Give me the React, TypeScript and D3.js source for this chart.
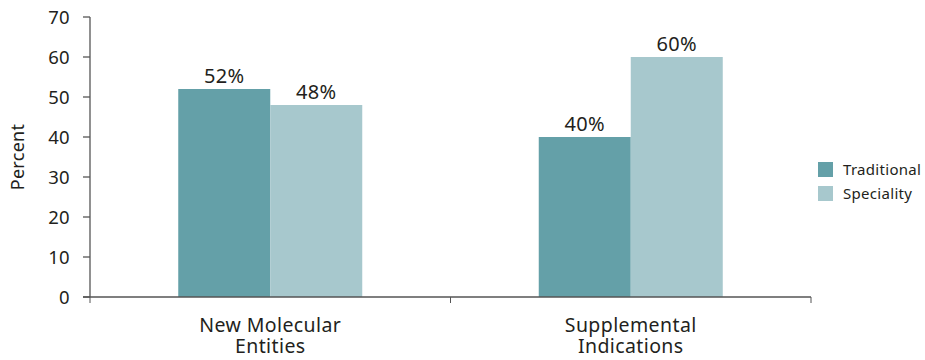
import React from "react";
import * as d3 from "d3";

const categories = ["New Molecular|Entities", "Supplemental|Indications"];
const seriesNames = ["Traditional", "Speciality"];
const traditional = [52, 40];
const speciality = [48, 60];
const yTicks = [0, 10, 20, 30, 40, 50, 60, 70];
const colors = ["#64a0a8", "#a7c8cd"];

export default function App() {
  const W = 925, H = 360;
  const left = 90, right = 811, top = 17, bottom = 297;
  const x = d3.scaleBand<number>().domain([0, 1]).range([left, right]);
  const inner = d3.scaleBand<number>().domain([0, 1]).range([0, 184]);
  const y = d3.scaleLinear().domain([0, 70]).range([bottom, top]);
  const series = [traditional, speciality];
  const font = "'Noto Sans', 'Open Sans', sans-serif";
  const txt = "#231f20";
  const axisColor = "#555";
  return (
    <svg width={W} height={H} style={{ position: "absolute", left: 0, top: 0 }} fontFamily={font}>
      {categories.map((c, i) => {
        const bx = x(i)! + (x.bandwidth() - 184) / 2;
        const cx = x(i)! + x.bandwidth() / 2;
        return (
          <g key={c}>
            {series.map((s, j) => (
              <g key={j}>
                <rect x={bx + inner(j)!} y={y(s[i])} width={inner.bandwidth()} height={bottom - y(s[i])} fill={colors[j]} />
                <text x={bx + inner(j)! + inner.bandwidth() / 2} y={y(s[i]) - 6} textAnchor="middle" fontSize={20} letterSpacing={0.4} fill={txt}>{s[i]}%</text>
              </g>
            ))}
            <text x={cx} y={332} textAnchor="middle" fontSize={19.5} letterSpacing={0.4} fill={txt}>
              {c.split("|").map((line, k) => (
                <tspan key={k} x={cx} dy={k === 0 ? 0 : 21}>{line}</tspan>
              ))}
            </text>
          </g>
        );
      })}
      <line x1={left} x2={left} y1={top} y2={bottom} stroke={axisColor} strokeWidth={1.3} />
      <line x1={left - 7} x2={right} y1={bottom} y2={bottom} stroke={axisColor} strokeWidth={1.3} />
      {[0, 1, 2].map((k) => (
        <line key={k} x1={left + k * x.bandwidth()} x2={left + k * x.bandwidth()} y1={bottom} y2={bottom + 6} stroke={axisColor} strokeWidth={1} />
      ))}
      {yTicks.map((t) => (
        <g key={t}>
          <line x1={left - 7} x2={left} y1={y(t)} y2={y(t)} stroke={axisColor} strokeWidth={1.3} />
          <text x={70} y={y(t) + 6.5} textAnchor="end" fontSize={18.5} letterSpacing={0.3} fill={txt}>{t}</text>
        </g>
      ))}
      <text transform={`translate(24,${(top + bottom) / 2}) rotate(-90)`} textAnchor="middle" fontSize={18} letterSpacing={0.3} fill={txt}>Percent</text>
      {seriesNames.map((n, j) => (
        <g key={n}>
          <rect x={818} y={162 + j * 24} width={15} height={15} fill={colors[j]} />
          <text x={843} y={175 + j * 24} fontSize={15} letterSpacing={0.3} fill={txt}>{n}</text>
        </g>
      ))}
    </svg>
  );
}
